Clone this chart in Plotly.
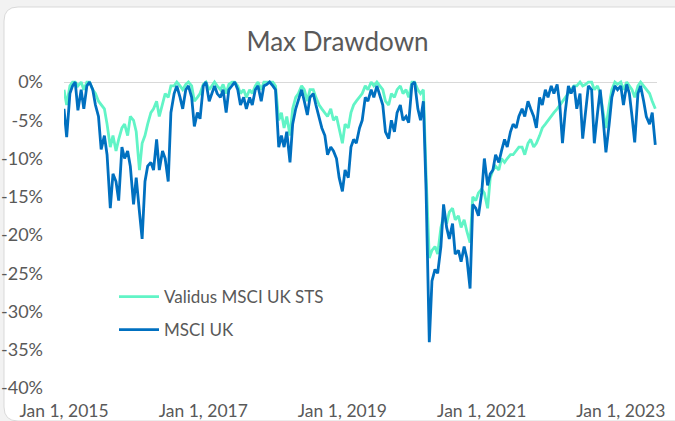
import pandas as pd
import plotly.graph_objects as go

# ---------------- data (drawdown, %) ----------------
dates = pd.date_range("2015-01-01", "2023-07-01", freq="SMS")

msci_uk = [
    # 2015
    -3.5, -7.2, -1.5, -0.5, 0, -3.7, -1.0, -3.5, -0.5, 0, -1.0, -3.0,
    -4.5, -8.8, -7.0, -9.5, -16.5, -12.0, -13.0, -15.5, -8.5, -10.0, -9.0, -11.0,
    # 2016
    -16.0, -12.5, -17.0, -20.5, -13.0, -11.0, -10.5, -11.5, -7.5, -11.5, -9.0, -10.0,
    -13.0, -4.0, -1.5, -0.5, -2.0, -3.5, -1.0, -0.5, -2.0, -5.8, -4.0, -4.8,
    # 2017
    -0.5, 0, -2.5, -1.5, -0.5, -1.5, -2.0, -1.0, -4.0, -1.0, -0.5, 0,
    -1.0, -3.0, -2.0, -3.5, -2.0, -3.0, -1.0, -0.5, -2.5, -0.5, -0.3, 0,
    # 2018
    -0.5, -1.0, -8.5, -7.0, -8.5, -6.5, -10.5, -5.5, -3.5, -2.5, -1.0, -2.5,
    -4.3, -2.0, -1.5, -3.0, -4.5, -6.0, -7.0, -9.5, -8.5, -9.0, -10.0, -12.5,
    # 2019
    -14.3, -11.5, -12.5, -8.5, -7.5, -8.0, -6.0, -5.0, -2.0, -2.5, -1.0, -2.0,
    -0.5, -1.5, -3.0, -6.5, -7.4, -5.0, -6.5, -4.0, -3.0, -5.0, -4.5, -5.3,
    # 2020
    -0.3, 0, -3.5, -5.0, -2.5, -14.0, -34.0, -26.0, -24.5, -25.0, -21.5, -16.0,
    -19.0, -20.5, -18.5, -22.5, -22.0, -23.5, -21.5, -23.0, -27.0, -16.0, -16.5, -17.5,
    # 2021
    -14.5, -10.0, -13.5, -12.0, -11.5, -9.5, -10.5, -9.0, -7.5, -8.5, -6.5, -5.5,
    -6.0, -4.5, -3.5, -4.5, -2.5, -3.5, -4.5, -6.0, -2.0, -3.0, -1.0, -2.0,
    # 2022
    -0.5, -1.5, -0.3, -3.0, -8.0, -4.0, -0.5, -1.5, -0.5, -3.5, -1.5, -7.4,
    -4.0, -0.5, -1.0, -8.0, -4.0, -1.0, -5.0, -9.2, -5.5, -2.0, -0.5, -1.0,
    # 2023
    -0.5, -3.0, -0.3, -1.5, -4.5, -7.9, -1.5, -0.5, -2.5, -4.5, -5.5, -4.0, -8.2,
]

validus_sts = [
    # 2015
    -1.0, -3.0, -0.5, 0, 0, -0.5, 0, -1.0, 0, 0, -1.0, -1.5,
    -2.5, -3.0, -3.5, -5.5, -8.5, -7.0, -9.0, -7.5, -6.0, -5.5, -7.0, -4.5,
    # 2016
    -5.0, -6.5, -11.5, -8.0, -7.0, -5.5, -4.0, -3.5, -2.5, -4.5, -3.0, -1.5,
    -2.0, -0.5, -0.5, 0, -0.5, -1.0, -0.3, 0, -0.5, -2.5, -2.0, -1.5,
    # 2017
    -0.3, 0, -1.0, -0.5, 0, -0.5, -1.0, -0.3, -1.5, -0.3, 0, 0,
    -0.5, -1.5, -1.0, -2.0, -1.0, -1.5, -0.5, 0, -1.0, 0, 0, 0,
    # 2018
    0, -0.5, -5.0, -4.0, -6.0, -4.5, -7.0, -3.5, -2.0, -1.5, -0.5, -1.0,
    -2.5, -1.0, -1.0, -2.0, -3.0, -3.5, -4.0, -4.5, -3.5, -5.0, -4.5, -6.0,
    # 2019
    -8.0, -5.5, -6.0, -4.0, -3.0, -2.5, -2.0, -1.5, -0.5, -1.0, 0, -0.5,
    0, -0.5, -1.0, -2.5, -3.0, -1.5, -2.0, -1.0, -0.5, -1.5, -1.0, -2.0,
    # 2020
    0, 0, -1.0, -1.5, -1.0, -12.0, -23.0, -22.0, -21.5, -22.5, -19.0, -17.5,
    -18.5, -17.0, -16.5, -18.0, -17.5, -19.0, -18.0, -19.5, -21.0, -15.0, -15.5, -14.5,
    # 2021
    -14.0, -14.5, -16.5, -12.5, -11.5, -11.0, -11.5, -10.0, -10.5, -10.0, -9.5, -9.5,
    -9.0, -8.5, -8.5, -9.5, -8.0, -7.5, -8.5, -8.0, -7.0, -6.0, -5.5, -5.0,
    # 2022
    -4.5, -4.0, -3.5, -3.0, -2.5, -2.0, -1.5, -1.0, -0.5, -0.5, 0, -0.5,
    -0.3, 0, 0, -1.0, -0.5, -1.5, -4.0, -6.0, -3.0, -1.0, 0, -0.3,
    # 2023
    0, -1.0, 0, -0.5, -1.0, -2.0, -0.5, 0, -0.5, -1.0, -1.5, -2.5, -3.5,
]

series_names = ["Validus MSCI UK STS", "MSCI UK"]
y_tick_vals = [0, -5, -10, -15, -20, -25, -30, -35, -40]
y_tick_text = ["0%", "-5%", "-10%", "-15%", "-20%", "-25%", "-30%", "-35%", "-40%"]
x_tick_vals = ["2015-01-01", "2017-01-01", "2019-01-01", "2021-01-01", "2023-01-01"]
x_tick_text = ["Jan 1, 2015", "Jan 1, 2017", "Jan 1, 2019", "Jan 1, 2021", "Jan 1, 2023"]

# ---------------- layout geometry ----------------
W, H = 675, 421
L, R, T, B = 64, 18, 79, 33
pw, ph = W - L - R, H - T - B


def px(x):
    return (x - L) / pw


def py(y):
    return (H - B - y) / ph


GREEN = "#61F4C6"
BLUE = "#0070C0"
TXT = "#595959"
FONT = "Lato, 'Open Sans', sans-serif"

fig = go.Figure()
fig.add_trace(go.Scatter(x=dates, y=validus_sts, mode="lines", name=series_names[0],
                         line=dict(color=GREEN, width=2.8), legendgroup="a"))
fig.add_trace(go.Scatter(x=dates, y=msci_uk, mode="lines", name=series_names[1],
                         line=dict(color=BLUE, width=2.8), legendgroup="b"))

# rounded card
r = 14
x0, y0, x1, y1 = 4, 7, 700, 421
card = (f"M {px(x0)},{py(y0 + r)} Q {px(x0)},{py(y0)} {px(x0 + r)},{py(y0)} "
        f"L {px(x1)},{py(y0)} L {px(x1)},{py(y1)} L {px(x0 + r)},{py(y1)} "
        f"Q {px(x0)},{py(y1)} {px(x0)},{py(y1 - r)} Z")

fig.update_layout(
    width=W, height=H,
    margin=dict(l=L, r=R, t=T, b=B, autoexpand=False),
    paper_bgcolor="#f2f2f2",
    plot_bgcolor="rgba(0,0,0,0)",
    font=dict(family=FONT, color=TXT, size=17),
    title=dict(text="Max Drawdown", x=0.5, xref="container", xanchor="center",
               y=1 - 42 / H, yref="container", yanchor="middle", automargin=False,
               font=dict(family=FONT, size=26, color=TXT)),
    shapes=[dict(type="path", path=card, xref="paper", yref="paper",
                 fillcolor="white", line=dict(color="#d9d9d9", width=1), layer="below")],
    legend=dict(x=px(114), y=py(279), xanchor="left", yanchor="top",
                bgcolor="rgba(0,0,0,0)", font=dict(size=17, color=TXT),
                tracegroupgap=8, itemwidth=40, traceorder="grouped"),
    showlegend=True,
)
fig.update_xaxes(range=["2015-01-01", "2023-07-10"], tickvals=x_tick_vals, ticktext=x_tick_text,
                 showgrid=False, zeroline=False, showline=False, ticks="", automargin=False,
                 ticklabelstandoff=10, tickfont=dict(size=17.5, color=TXT, family=FONT))
fig.update_yaxes(range=[-40, 0.4], tickvals=y_tick_vals, ticktext=y_tick_text,
                 showgrid=False, zeroline=True, zerolinecolor="#d9d9d9", zerolinewidth=1,
                 showline=False, ticks="", ticklabelstandoff=20, automargin=False,
                 tickfont=dict(size=18, color=TXT, family=FONT))

fig.write_html("out.html",
               config={"displayModeBar": False},
               post_script="document.body.style.margin='0';document.body.style.padding='0';"
                           "document.body.style.overflow='hidden';")
